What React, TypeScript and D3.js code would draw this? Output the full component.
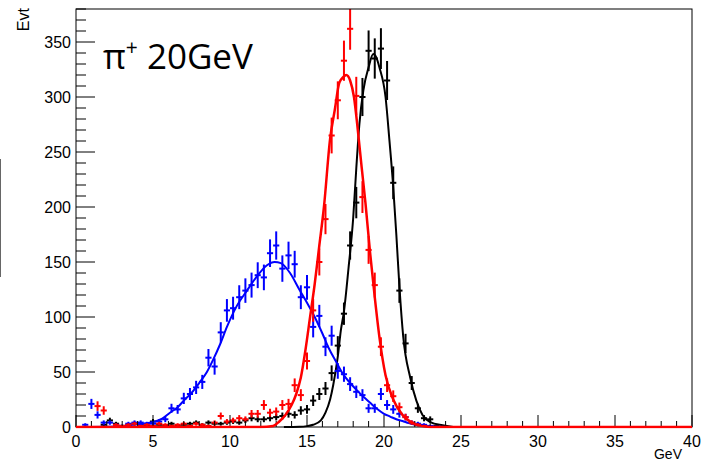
import React from "react";
import * as d3 from "d3";

const W = 702;
const H = 467;

// bin centres (0.4 GeV bins)
const binCenters: number[] = Array.from({ length: 60 }, (_, i) => +(0.2 + 0.4 * i).toFixed(1));

// histogram contents, bins 0.2 .. 23.8
const blueCounts = [
  0, 2, 21, 11, 4, 4, 2, 1, 3, 4, 4, 3, 3, 5, 7, 17, 16, 26, 30, 36,
  41, 63, 55, 86, 106, 108, 118, 124, 129, 138, 136, 158, 165, 144, 156, 148, 118, 127, 91, 101,
  73, 83, 51, 48, 39, 32, 29, 17, 17, 30, 20, 16, 12, 9, 4, 3, 2, 1, 0, 0,
];
const redCounts = [
  0, 0, 0, 19, 15, 0, 2, 1, 2, 3, 1, 2, 1, 3, 2, 1, 2, 3, 1, 3,
  2, 1, 4, 10, 5, 6, 8, 7, 12, 12, 20, 13, 14, 20, 21, 38, 29, 60, 106, 150,
  189, 265, 297, 333, 362, 301, 209, 161, 129, 73, 38, 28, 18, 9, 4, 2, 1, 0, 0, 0,
];
const blackCounts = [
  0, 0, 0, 0, 2, 6, 3, 1, 2, 3, 2, 1, 5, 2, 1, 3, 1, 2, 3, 4,
  2, 4, 3, 3, 4, 5, 4, 6, 8, 7, 7, 8, 9, 10, 12, 11, 15, 16, 24, 30,
  35, 49, 74, 103, 165, 204, 300, 342, 335, 344, 315, 222, 124, 76, 40, 17, 8, 7, 1, 0,
];

// fitted curves
const blueFitX = [0, 2.0, 3.0, 3.7, 4.4, 5.0, 5.6, 6.1, 6.6, 7.0, 7.5, 8.0, 8.5, 8.9, 9.35, 9.8, 10.4, 11.1, 11.7, 12.4, 12.9, 13.3, 13.9, 14.5, 15.0, 15.5, 16.0, 16.4, 16.9, 17.3, 17.8, 18.2, 18.7, 19.1, 19.5, 20.0, 20.4, 20.8, 21.2, 21.6, 22.5, 23.5, 25];
const blueFitY = [0, 0.2, 0.6, 2, 3, 4.5, 7.6, 13, 18, 24, 31, 40, 50, 61, 75, 91, 109, 124, 136, 147, 150, 149, 140, 125, 113, 100, 85, 72, 59, 49, 40, 34, 27, 22, 17, 12, 9.5, 7, 5.5, 3.5, 1, 0.2, 0];

const blackFitX = [13.5, 14.5, 15.0, 15.4, 15.9, 16.2, 16.5, 16.7, 17.0, 17.2, 17.4, 17.7, 18.0, 18.2, 18.4, 18.66, 19.0, 19.3, 19.5, 19.7, 20.1, 20.35, 20.6, 20.8, 21.0, 21.25, 21.7, 22.1, 22.5, 23.0, 23.8, 24.5];
const blackFitY = [0, 0.2, 0.8, 2, 6, 13, 25, 38, 64, 88, 105, 145, 190, 235, 275, 306, 327, 339, 336, 327, 300, 261, 218, 175, 128, 82, 45, 24, 11, 4.5, 1.5, 0];

const redFitX = [0, 12.0, 12.8, 13.2, 13.6, 14.0, 14.3, 14.6, 14.9, 15.2, 15.5, 15.8, 16.1, 16.5, 16.8, 17.1, 17.35, 17.55, 17.8, 18.05, 18.3, 18.55, 18.8, 19.1, 19.4, 19.7, 20.1, 20.6, 21.2, 21.8, 22.4, 23.0, 40];
const redFitY = [0, 0, 1, 5, 11, 20, 30, 45, 70, 100, 130, 165, 200, 262, 288, 313, 318, 320, 315, 300, 270, 236, 203, 158, 118, 82, 47, 25, 11, 4, 1, 0, 0];

const xMajorTicks = [0, 5, 10, 15, 20, 25, 30, 35, 40];
const yMajorTicks = [0, 50, 100, 150, 200, 250, 300, 350];

const xTitle = "GeV";
const yTitle = "Evt";
const labelMain = "π";
const labelSup = "+";
const labelRest = " 20GeV";

const left = 76;
const right = 692;
const top = 9;
const bottom = 427;

export default function App() {
  const x = d3.scaleLinear().domain([0, 40]).range([left, right]);
  const y = d3.scaleLinear().domain([0, 380]).range([bottom, top]);

  const xMinor = d3.range(0, 41, 1).filter((v) => v % 5 !== 0);
  const yMinor = d3.range(0, 381, 10).filter((v) => v % 50 !== 0);

  const line = d3
    .line<[number, number]>()
    .x((d) => x(d[0]))
    .y((d) => y(d[1]))
    .curve(d3.curveMonotoneX);

  const zip = (a: number[], b: number[]) => a.map((v, i) => [v, b[i]] as [number, number]);

  const hist = (counts: number[], color: string, key: string) => (
    <g key={key} stroke={color} strokeWidth={2} clipPath="url(#plotclip)">
      {counts.map((n, i) => {
        if (n <= 0) return null;
        const c = binCenters[i];
        const e = Math.sqrt(n);
        return (
          <g key={i}>
            <line x1={x(c - 0.2)} x2={x(c + 0.2)} y1={y(n)} y2={y(n)} />
            <line x1={x(c)} x2={x(c)} y1={y(n - e)} y2={y(n + e)} />
          </g>
        );
      })}
    </g>
  );

  const font = "'Liberation Sans', Arial, Helvetica, sans-serif";

  return (
    <svg
      width={W}
      height={H}
      style={{ position: "absolute", left: 0, top: 0, background: "#fff" }}
      fontFamily={font}
    >
      <defs>
        <clipPath id="plotclip">
          <rect x={left} y={top} width={right - left} height={bottom - top} />
        </clipPath>
        <clipPath id="fitclip">
          <rect x={left} y={top} width={right - left} height={bottom - top + 1.5} />
        </clipPath>
      </defs>
      <rect x={0} y={0} width={W} height={H} fill="#fff" />
      <line x1={0.5} x2={0.5} y1={159} y2={277} stroke="#666" strokeWidth={1} />

      {hist(blackCounts, "#000", "bk")}
      <path d={line(zip(blackFitX, blackFitY)) || ""} fill="none" stroke="#000" strokeWidth={2} clipPath="url(#fitclip)" />
      {hist(blueCounts, "#0000ff", "bl")}
      <path d={line(zip(blueFitX, blueFitY)) || ""} fill="none" stroke="#0000ff" strokeWidth={2} clipPath="url(#fitclip)" />
      {hist(redCounts, "#ff0000", "rd")}

      {/* frame */}
      <rect x={left} y={top} width={right - left} height={bottom - top} fill="none" stroke="#000" strokeWidth={1} />

      {/* x ticks */}
      <g stroke="#000" strokeWidth={1}>
        {xMajorTicks.map((t) => (
          <line key={"xM" + t} x1={x(t)} x2={x(t)} y1={bottom} y2={bottom - 12} />
        ))}
        {xMinor.map((t) => (
          <line key={"xm" + t} x1={x(t)} x2={x(t)} y1={bottom} y2={bottom - 6} />
        ))}
        {yMajorTicks.map((t) => (
          <line key={"yM" + t} x1={left} x2={left + 19} y1={y(t)} y2={y(t)} />
        ))}
        {yMinor.map((t) => (
          <line key={"ym" + t} x1={left} x2={left + 10} y1={y(t)} y2={y(t)} />
        ))}
      </g>

      <path d={line(zip(redFitX, redFitY)) || ""} fill="none" stroke="#ff0000" strokeWidth={2.5} clipPath="url(#fitclip)" />

      {/* tick labels */}
      <g fontSize={16} fill="#000">
        {xMajorTicks.map((t) => (
          <text key={"xl" + t} x={x(t)} y={447} textAnchor="middle">
            {t}
          </text>
        ))}
        {yMajorTicks.map((t) => (
          <text key={"yl" + t} x={71} y={y(t) + 5.8} textAnchor="end">
            {t}
          </text>
        ))}
      </g>

      {/* axis titles */}
      <text x={682} y={459} fontSize={14} textAnchor="end">
        {xTitle}
      </text>
      <text transform="translate(28.5,8) rotate(-90)" fontSize={16} textAnchor="end">
        {yTitle}
      </text>

      {/* label */}
      <text x={103} y={69} fontSize={35} fontFamily="'Open Sans', 'Noto Sans', sans-serif" fill="#000">
        {labelMain}
        <tspan fontSize={21} dy={-14}>{labelSup}</tspan>
        <tspan dy={14}>{labelRest}</tspan>
      </text>
    </svg>
  );
}
